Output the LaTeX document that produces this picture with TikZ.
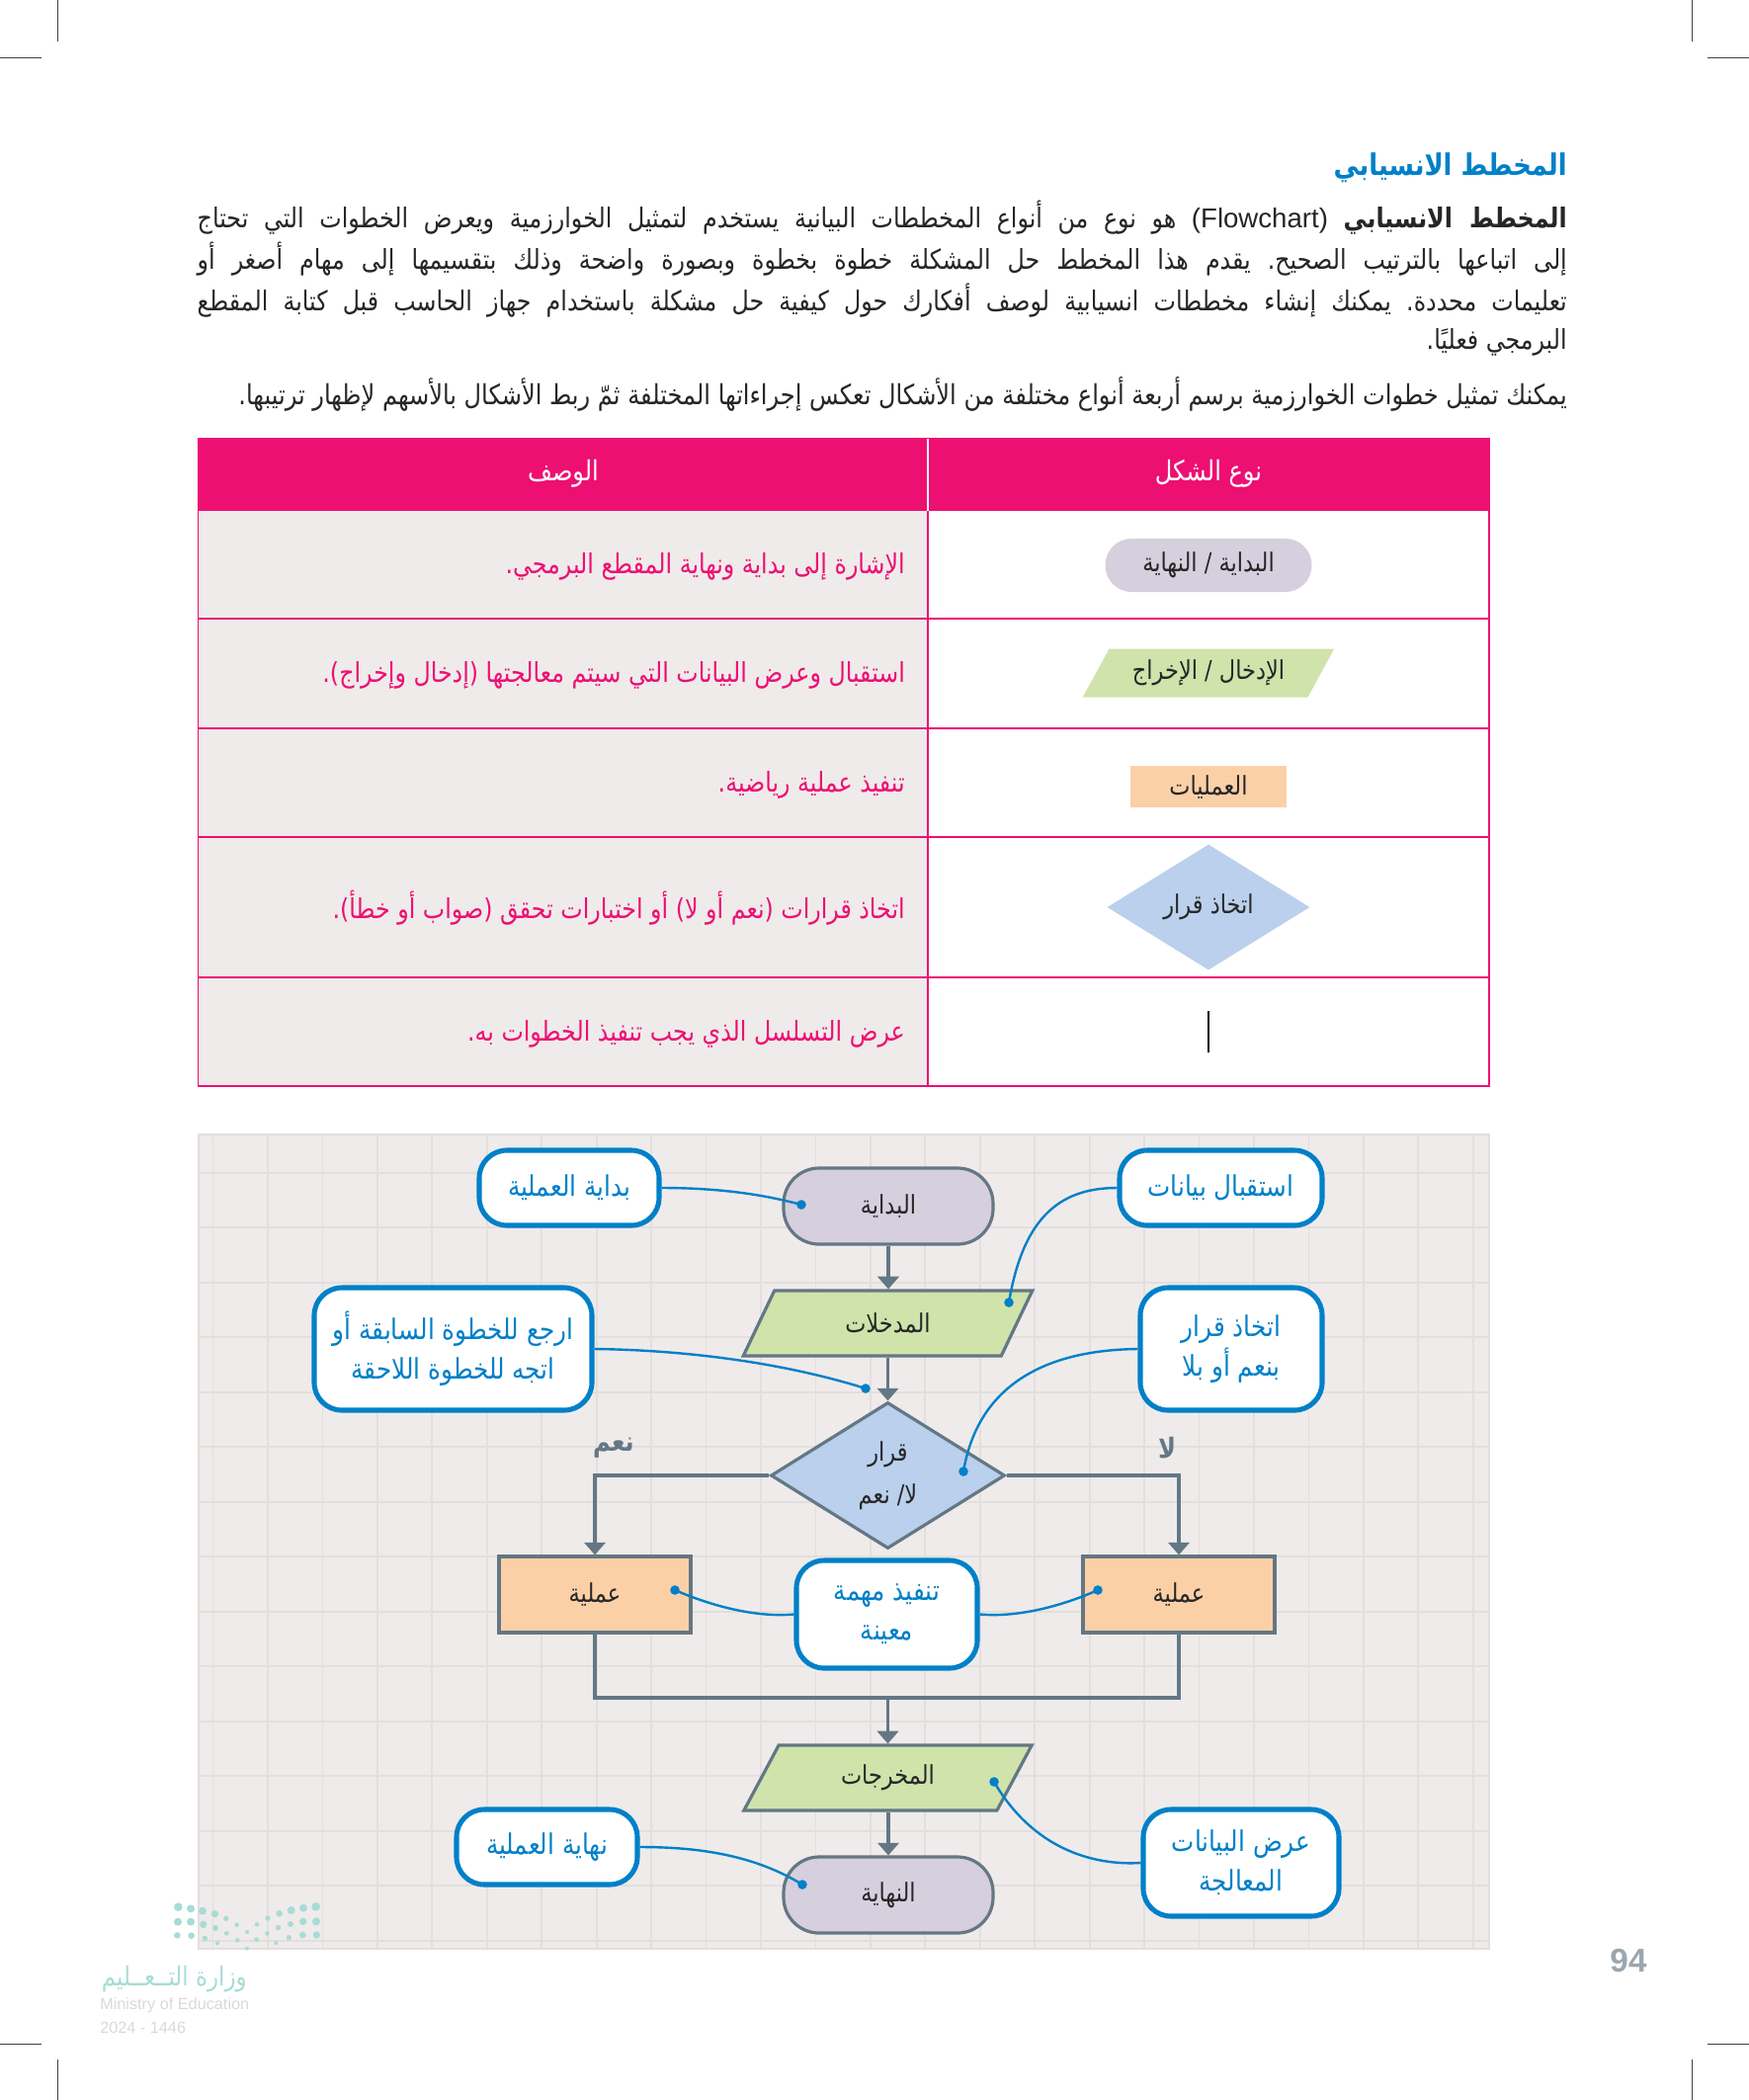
\documentclass[tikz,border=0pt]{standalone}
\usepackage{fontspec}
\usetikzlibrary{shapes.geometric,arrows.meta}
\TeXXeTstate=1
\frenchspacing
\newfontfamily\arabicfont[Script=Arabic,FakeStretch=0.86]{DejaVu Sans}
\newfontfamily\latinfont{Liberation Sans}
\newcommand{\artext}[1]{\beginR #1\endR}
\newcommand{\bodyline}[1]{\hbox to 1039.5pt{\beginR #1\endR}}
\definecolor{pagepink}{HTML}{ED0F72}
\definecolor{pageblue}{HTML}{0080C8}
\definecolor{rowgrey}{HTML}{EFEBEB}
\definecolor{gridgrey}{HTML}{E3DFDD}
\definecolor{flowgrey}{HTML}{647784}
\definecolor{pillfill}{HTML}{D6CFDD}
\definecolor{parafill}{HTML}{CFE3AB}
\definecolor{rectfill}{HTML}{FBD0A7}
\definecolor{diamfill}{HTML}{BAD0EC}
\definecolor{logoteal}{HTML}{A8DCD6}
\tikzset{
  cropline/.style={draw=black!75,line width=0.6pt},
  gridvert/.style={draw=gridgrey,line width=1.3pt},
  gridhorz/.style={draw=gridgrey,line width=1.6pt},
  rowline/.style={draw=pagepink,line width=1.1pt},
  bodytext/.style={inner sep=0pt,font=\arabicfont\fontsize{20.7}{24}\selectfont,text=black!85},
  headtext/.style={inner sep=0pt,font=\arabicfont\fontsize{21}{24}\selectfont,text=white},
  celltext/.style={inner sep=0pt,anchor=east,font=\arabicfont\fontsize{20.7}{24}\selectfont,text=pagepink},
  keytext/.style={font=\arabicfont\fontsize{19.6}{24}\selectfont,text=black!85},
  pillnode/.style={rounded corners=27pt,draw=#1,fill=pillfill,keytext,inner sep=0pt},
  paranode/.style={trapezium,trapezium stretches=true,trapezium left angle=60,trapezium right angle=120,draw=#1,fill=parafill,keytext,inner sep=0pt},
  rectnode/.style={rectangle,draw=#1,fill=rectfill,keytext,inner sep=0pt},
  diamnode/.style={diamond,draw=#1,fill=diamfill,keytext,inner sep=0pt,align=center},
  flownode/.style={line width=2.4pt},
  flowline/.style={draw=flowgrey,line width=2.4pt},
  flowarrow/.style={flowline,-{Triangle[width=16pt,length=9.5pt]}},
  callnode/.style={rectangle,rounded corners=21pt,draw=pageblue,fill=white,line width=3.8pt,text=pageblue,inner sep=0pt,align=center,font=\arabicfont\fontsize{21.5}{30}\selectfont},
  callline/.style={draw=pageblue,line width=1.8pt},
  calldot/.style={circle,fill=pageblue,inner sep=0pt,minimum size=7.2pt},
  yesno/.style={inner sep=0pt,font=\arabicfont\bfseries\fontsize{21}{24}\selectfont,text=flowgrey}
}
\begin{document}
\begin{tikzpicture}[x=0.75pt,y=0.75pt,yscale=-1,xscale=1]
        \useasboundingbox (0,0) rectangle (1770,2125);

        %Straight Lines: crop marks
        \draw [cropline] (0,58) -- (42,58) ;
        \draw [cropline] (58,0) -- (58,42) ;
        \draw [cropline] (1728,58) -- (1770,58) ;
        \draw [cropline] (1712,0) -- (1712,42) ;
        \draw [cropline] (0,2068) -- (42,2068) ;
        \draw [cropline] (58,2084) -- (58,2125) ;
        \draw [cropline] (1728,2068) -- (1770,2068) ;
        \draw [cropline] (1712,2084) -- (1712,2125) ;

        % Text Node
        \node [inner sep=0pt,anchor=east,font=\arabicfont\bfseries\fontsize{22.5}{28}\selectfont,text=pageblue] (pagetitle) at (1586,170) {\artext{المخطط الانسيابي}};
        % Text Node
        \node [bodytext,anchor=east] (bodylineone) at (1586,220) {\bodyline{{\bfseries المخطط الانسيابي} \beginL{\latinfont (Flowchart)}\endL\ هو نوع من أنواع المخططات البيانية يستخدم لتمثيل الخوارزمية ويعرض الخطوات التي تحتاج}};
        \node [bodytext,anchor=east] (bodylinetwo) at (1586,262) {\bodyline{إلى اتباعها بالترتيب الصحيح. يقدم هذا المخطط حل المشكلة خطوة بخطوة وبصورة واضحة وذلك بتقسيمها إلى مهام أصغر أو}};
        \node [bodytext,anchor=east] (bodylinethree) at (1586,304) {\bodyline{تعليمات محددة. يمكنك إنشاء مخططات انسيابية لوصف أفكارك حول كيفية حل مشكلة باستخدام جهاز الحاسب قبل كتابة المقطع}};
        \node [bodytext,anchor=east] (bodylinefour) at (1586,346) {\artext{البرمجي فعليًا.}};
        \node [bodytext,anchor=east,font=\arabicfont\fontsize{21}{24}\selectfont] (bodylinefive) at (1586,399) {\artext{يمكنك تمثيل خطوات الخوارزمية برسم أربعة أنواع مختلفة من الأشكال تعكس إجراءاتها المختلفة ثمّ ربط الأشكال بالأسهم لإظهار ترتيبها.}};

        %Shape: Rectangle
        \fill [pagepink] (200.6,444) rectangle (1507,517) ;
        \fill [rowgrey] (200.6,517) rectangle (939,1099) ;
        \draw [rowline] (200.6,444) rectangle (1507,1099) ;
        %Straight Lines
        \draw [rowline] (200.6,626) -- (1507,626) ;
        \draw [rowline] (200.6,737) -- (1507,737) ;
        \draw [rowline] (200.6,847) -- (1507,847) ;
        \draw [rowline] (200.6,989) -- (1507,989) ;
        \draw [rowline] (939,517) -- (939,1099) ;
        \draw [draw=white,line width=1.1pt] (939,444) -- (939,517) ;

        % Text Node
        \node [headtext] (headshape) at (1223,479) {\artext{نوع الشكل}};
        \node [headtext] (headinfo) at (570,479) {\artext{الوصف}};
        \node [celltext] (rowonetext) at (916,573) {\artext{الإشارة إلى بداية ونهاية المقطع البرمجي.}};
        \node [celltext] (rowtwotext) at (916,683) {\artext{استقبال وعرض البيانات التي سيتم معالجتها (إدخال وإخراج).}};
        \node [celltext] (rowthreetext) at (916,794) {\artext{تنفيذ عملية رياضية.}};
        \node [celltext] (rowfourtext) at (916,919) {\artext{اتخاذ قرارات (نعم أو لا) أو اختبارات تحقق (صواب أو خطأ).}};
        \node [celltext] (rowfivetext) at (916,1046) {\artext{عرض التسلسل الذي يجب تنفيذ الخطوات به.}};

        %Shape: table keys
        \node [pillnode=none,rounded corners=20pt,minimum width=156.75pt,minimum height=40.5pt] (keypill) at (1223,572) {\artext{البداية / النهاية}};
        \node [paranode=none,minimum width=191.25pt,minimum height=36.75pt,trapezium left angle=52,trapezium right angle=128] (keypara) at (1223,681) {\artext{الإدخال / الإخراج}};
        \node [rectnode=none,minimum width=118.5pt,minimum height=31.5pt] (keyrect) at (1223,796) {\artext{العمليات}};
        \node [diamnode=none,minimum width=153.75pt,minimum height=95.25pt,aspect=1.6] (keydiam) at (1223,918) {\artext{اتخاذ قرار}};
        %Straight Lines
        \coordinate (keylinetop) at (1223,1023);
        \coordinate (keylinebot) at (1223,1065);
        \draw [draw=black,line width=2pt] (keylinetop) -- (keylinebot) ;

        %Shape: squared paper
        \fill [rowgrey] (200.6,1148) rectangle (1507,1972) ;
        \foreach \gridx in {0,...,23} {
          \draw [gridvert] (215.6+55.44*\gridx,1148) -- (215.6+55.44*\gridx,1972) ;
        }
        \foreach \gridy in {0,...,14} {
          \draw [gridhorz] (200.6,1186.6+55.5*\gridy) -- (1507,1186.6+55.5*\gridy) ;
        }
        \draw [gridhorz] (200.6,1148) rectangle (1507,1972) ;

        %Shape: flow nodes
        \node [pillnode=flowgrey,flownode,minimum width=159pt,minimum height=57.75pt] (startnode) at (899,1220.5) {\artext{البداية}};
        \node [paranode=flowgrey,flownode,minimum width=219.75pt,minimum height=49.5pt] (inputnode) at (898.5,1339) {\artext{المدخلات}};
        \node [diamnode=flowgrey,flownode,minimum width=177.75pt,minimum height=111pt,aspect=1.6] (decisionnode) at (898.5,1493) {\artext{قرار}\\[8pt]\artext{لا/ نعم}};
        \node [rectnode=flowgrey,flownode,minimum width=145.5pt,minimum height=57.75pt] (leftprocess) at (602,1613.5) {\artext{عملية}};
        \node [rectnode=flowgrey,flownode,minimum width=145.5pt,minimum height=57.75pt] (rightprocess) at (1193,1613.5) {\artext{عملية}};
        \node [paranode=flowgrey,flownode,minimum width=219.75pt,minimum height=49.5pt] (outputnode) at (898.5,1799) {\artext{المخرجات}};
        \node [pillnode=flowgrey,flownode,minimum width=159pt,minimum height=57.75pt] (endnode) at (899,1917.5) {\artext{النهاية}};
        \coordinate (joinpoint) at (898.5,1718);

        %Straight Lines
        \draw [flowarrow] (startnode.south) -- (startnode.south |- inputnode.north) ;
        \draw [flowarrow] (inputnode.south -| decisionnode.north) -- (decisionnode.north) ;
        \draw [flowarrow] (decisionnode.west) -| (leftprocess.north) ;
        \draw [flowarrow] (decisionnode.east) -| (rightprocess.north) ;
        \draw [flowline] (leftprocess.south) |- (joinpoint) -| (rightprocess.south) ;
        \draw [flowarrow] (joinpoint) -- (joinpoint |- outputnode.north) ;
        \draw [flowarrow] (outputnode.south -| endnode.north) -- (endnode.north) ;

        % Text Node
        \node [yesno] (yeslabel) at (621,1465) {\artext{نعم}};
        \node [yesno] (nolabel) at (1181,1465) {\artext{لا}};

        %Shape: callouts
        \node [callnode,minimum width=136.5pt,minimum height=57pt] (startcall) at (576,1202) {\artext{بداية العملية}};
        \node [callnode,minimum width=153.75pt,minimum height=57pt] (inputcall) at (1235.5,1202) {\artext{استقبال بيانات}};
        \node [callnode,minimum width=210.75pt,minimum height=93pt] (backcall) at (458.5,1365) {\artext{ارجع للخطوة السابقة أو}\\\artext{اتجه للخطوة اللاحقة}};
        \node [callnode,minimum width=138pt,minimum height=93pt] (decidecall) at (1246,1365) {\artext{اتخاذ قرار}\\\artext{بنعم أو بلا}};
        \node [callnode,minimum width=137.25pt,minimum height=81.75pt] (taskcall) at (897.5,1633.5) {\artext{تنفيذ مهمة}\\\artext{معينة}};
        \node [callnode,minimum width=137.25pt,minimum height=57pt] (endcall) at (553.5,1869) {\artext{نهاية العملية}};
        \node [callnode,minimum width=148.5pt,minimum height=81pt] (showcall) at (1256,1885) {\artext{عرض البيانات}\\\artext{المعالجة}};

        %Shape: dots
        \node [calldot] (startdot) at (811,1219) {};
        \node [calldot] (inputdot) at (1021,1318) {};
        \node [calldot] (backdot) at (876,1405) {};
        \node [calldot] (decidedot) at (975,1489) {};
        \node [calldot] (taskdotleft) at (683,1609) {};
        \node [calldot] (taskdotright) at (1111,1609) {};
        \node [calldot] (enddot) at (812,1907) {};
        \node [calldot] (showdot) at (1006,1803) {};

        %Curve Lines
        \draw [callline] (startcall.east) .. controls (725,1202) and (770,1208) .. (startdot.center) ;
        \draw [callline] (inputcall.west) .. controls (1070,1202) and (1035,1235) .. (inputdot.center) ;
        \draw [callline] (backcall.east) .. controls (690,1366) and (790,1378) .. (backdot.center) ;
        \draw [callline] (decidecall.west) .. controls (1060,1366) and (990,1400) .. (decidedot.center) ;
        \draw [callline] (taskcall.west) .. controls (765,1637) and (720,1625) .. (taskdotleft.center) ;
        \draw [callline] (taskcall.east) .. controls (1030,1637) and (1075,1625) .. (taskdotright.center) ;
        \draw [callline] (endcall.east) .. controls (700,1869) and (760,1875) .. (enddot.center) ;
        \draw [callline] (showcall.west) .. controls (1105,1888) and (1045,1870) .. (showdot.center) ;

        % Text Node
        \node [inner sep=0pt,font=\latinfont\bfseries\fontsize{25}{28}\selectfont,text=flowgrey!65] (pagenumber) at (1648,1984) {94};

        %Shape: logo dots
        \foreach \dotx/\doty/\dotr in {361/89/13,399/94/12,435/101/12,472/110/11,506/124/8,539/143/7,570/165/6,600/142/7,633/123/8,668/109/10,704/99/12,741/92/12,779/88/13,
          360/134/12,399/134/12,437/142/11,474/153/9,508/169/7,541/190/7,570/215/6,599/188/7,631/169/7,665/152/8,702/141/9,740/133/11,780/133/12,
          358/175/10,401/176/10,442/184/8,480/199/6,658/198/6,697/182/8,739/174/10,781/174/11} {
          \fill [logoteal] (60+\dotx/3,1900+\doty/3) circle (\dotr/3*0.75pt) ;
        }
        % Text Node
        \node [inner sep=0pt,anchor=east,font=\arabicfont\fontsize{20}{24}\selectfont,text=logoteal] (logoname) at (250,2003) {\artext{وزارة التــعــليم}};
        \node [inner sep=0pt,anchor=west,font=\latinfont\fontsize{12.2}{14}\selectfont,text=black!15] (logoenglish) at (101,2029) {Ministry of Education};
        \node [inner sep=0pt,anchor=west,font=\latinfont\fontsize{12.2}{14}\selectfont,text=black!15] (logoyear) at (101,2052) {2024 - 1446};

        \end{tikzpicture}
\end{document}
